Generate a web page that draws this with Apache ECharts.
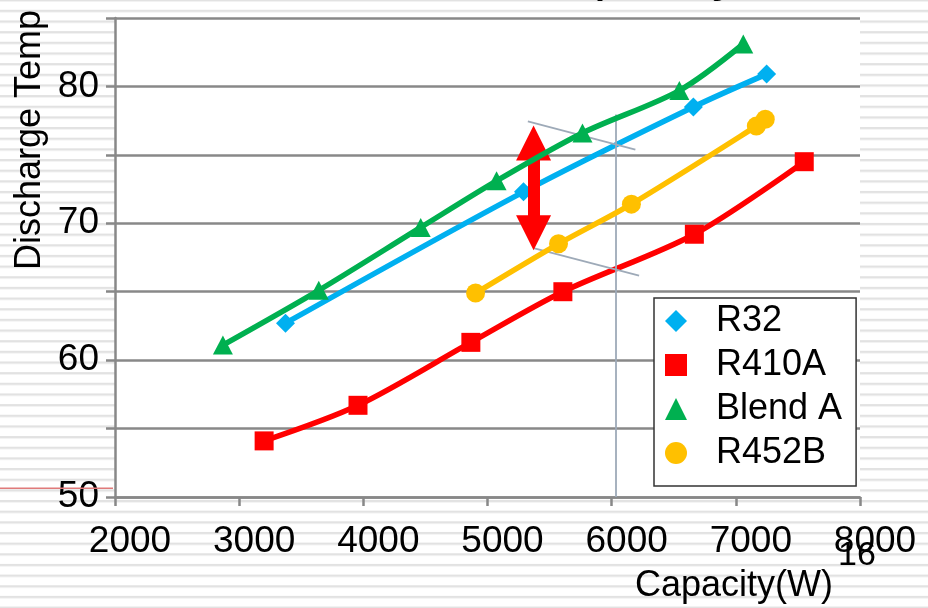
<!DOCTYPE html>
<html>
<head>
<meta charset="utf-8">
<script src="https://cdn.jsdelivr.net/npm/echarts@6/dist/echarts.min.js"></script>
<style>
  html, body { margin: 0; padding: 0; }
  body {
    width: 928px; height: 608px; overflow: hidden;
    background-color: #fff;
    background-image: linear-gradient(to bottom, #e2e2e2 0, #e2e2e2 2px, #f3f3f3 2px, #f3f3f3 3px, #fff 3px);
    background-size: 100% 10.6667px;
    background-position: 0 9.8px;
  }
  #chart { width: 928px; height: 608px; }
</style>
</head>
<body>
<div id="chart"></div>
<script>
// Discharge temperature (°C) against capacity (W) for four refrigerants
const seriesNames = ['R32', 'R410A', 'Blend A', 'R452B'];
const seriesColors = ['#00b0f0', '#ff0000', '#00b050', '#ffc000'];
const seriesSymbols = ['diamond', 'rect', 'triangle', 'circle'];
const seriesSymbolSizes = [19, 19, [20, 19], 19];

const r32 = [[3373, 62.7], [5290, 72.3], [6658, 78.5], [7248, 80.9]];
const r410a = [[3201, 54.1], [3957, 56.7], [4866, 61.3], [5607, 65.0], [6666, 69.2], [7551, 74.5]];
const blendA = [[2869, 61.1], [3641, 65.1], [4462, 69.7], [5073, 73.1], [5765, 76.6], [6545, 79.7], [7060, 83.1]];
const r452b = [[4904, 64.9], [5572, 68.5], [6159, 71.4], [7165, 77.1], [7237, 77.6]];
const seriesData = [r32, r410a, blendA, r452b];

const xTickValues = [2000, 3000, 4000, 5000, 6000, 7000, 8000];
const yLabelValues = [50, 60, 70, 80];

// Annotation guide lines and the double arrow, in data coordinates
const guideUpper = [[5325, 77.45], [6191, 75.38]];
const guideLower = [[5371, 68.19], [6221, 66.17]];
const guideVertical = [[6031, 77.94], [6031, 50]];
const arrowSpan = [[5371, 75.86], [5371, 69.31]];

const FONT = "'Liberation Sans', Arial, sans-serif";
const axisGray = '#888888';

const chart = echarts.init(document.getElementById('chart'), null, { renderer: 'canvas' });

const series = seriesNames.map((name, i) => ({
  name,
  type: 'line',
  data: seriesData[i],
  smooth: 0.3,
  symbol: seriesSymbols[i],
  symbolSize: seriesSymbolSizes[i],
  showSymbol: true,
  showAllSymbol: true,
  lineStyle: { color: seriesColors[i], width: 5.5 },
  itemStyle: { color: seriesColors[i] },
  emphasis: { disabled: true },
  z: 3 + i
}));

const guideStyle = { color: '#9eaab8', width: 1.8, type: 'solid' };
series.push({
  name: 'annotation',
  type: 'line',
  data: [],
  clip: false,
  silent: true,
  z: 10,
  markLine: {
    silent: true,
    animation: false,
    symbol: 'none',
    label: { show: false },
    emphasis: { disabled: true },
    data: [
      [{ coord: guideUpper[0], lineStyle: guideStyle }, { coord: guideUpper[1] }],
      [{ coord: guideLower[0], lineStyle: guideStyle }, { coord: guideLower[1] }],
      [{ coord: guideVertical[0], lineStyle: guideStyle }, { coord: guideVertical[1] }],
      [
        { coord: arrowSpan[0], symbol: 'triangle', symbolSize: [35, 35],
          lineStyle: { color: '#ff0000', width: 12, type: 'solid' },
          itemStyle: { color: '#ff0000' } },
        { coord: arrowSpan[1], symbol: 'triangle', symbolSize: [35, 35],
          itemStyle: { color: '#ff0000' } }
      ]
    ]
  }
});

const option = {
  animation: false,
  backgroundColor: 'transparent',
  textStyle: { fontFamily: FONT },
  grid: {
    left: 115, right: 68, top: 18, bottom: 111,
    show: true, backgroundColor: '#ffffff', borderWidth: 0,
    containLabel: false
  },
  xAxis: {
    type: 'value',
    min: xTickValues[0],
    max: xTickValues[xTickValues.length - 1],
    interval: 1000,
    splitLine: { show: false },
    axisLine: { show: true, lineStyle: { color: axisGray, width: 2.5 } },
    axisTick: { show: true, length: 9, lineStyle: { color: axisGray, width: 2.5 } },
    axisLabel: {
      color: '#000', fontSize: 37, fontFamily: FONT, margin: 26,
      padding: [0, 0, 0, 30],
      formatter: v => (xTickValues.includes(v) ? String(v) : '')
    }
  },
  yAxis: {
    type: 'value',
    min: 50, max: 85, interval: 5,
    splitLine: { show: true, lineStyle: { color: axisGray, width: 2.5 } },
    axisLine: { show: true, lineStyle: { color: axisGray, width: 2.5 } },
    axisTick: { show: true, length: 9, lineStyle: { color: axisGray, width: 2.5 } },
    axisLabel: {
      color: '#000', fontSize: 37, fontFamily: FONT, margin: 16,
      formatter: v => (yLabelValues.includes(v) ? String(v) : '')
    }
  },
  legend: {
    orient: 'vertical',
    left: 654, top: 298,
    padding: [5, 14, 15, 11],
    itemGap: 8,
    itemWidth: 22, itemHeight: 22,
    backgroundColor: '#ffffff',
    borderColor: '#333333', borderWidth: 1.5, borderRadius: 0,
    selectedMode: false,
    textStyle: { color: '#000', fontSize: 36, fontFamily: FONT, lineHeight: 36, padding: [0, 0, 0, 24] },
    data: seriesNames.map((name, i) => ({ name, icon: seriesSymbols[i] }))
  },
  graphic: [
    { type: 'line', silent: true, z: 1,
      shape: { x1: 0, y1: 488.3, x2: 113, y2: 488.3 },
      style: { stroke: '#e07a7a', lineWidth: 1.5 } },
    { type: 'text', silent: true, x: 740, y: -26.2,
      style: { text: 'vs. Capacity', font: '56px ' + FONT, fill: '#000', align: 'right', verticalAlign: 'middle' } },
    { type: 'text', silent: true, x: 30.5, y: 140, rotation: Math.PI / 2,
      style: { text: 'Discharge Temp', font: '36px ' + FONT, fill: '#000', align: 'center', verticalAlign: 'middle' } },
    { type: 'text', silent: true, x: 734, y: 586.5,
      style: { text: 'Capacity(W)', font: '36px ' + FONT, fill: '#000', align: 'center', verticalAlign: 'middle' } },
    { type: 'text', silent: true, x: 857, y: 556, z: 100,
      style: { text: '16', font: '34px ' + FONT, fill: '#000', align: 'center', verticalAlign: 'middle' } }
  ],
  series
};

chart.setOption(option);
</script>
</body>
</html>
